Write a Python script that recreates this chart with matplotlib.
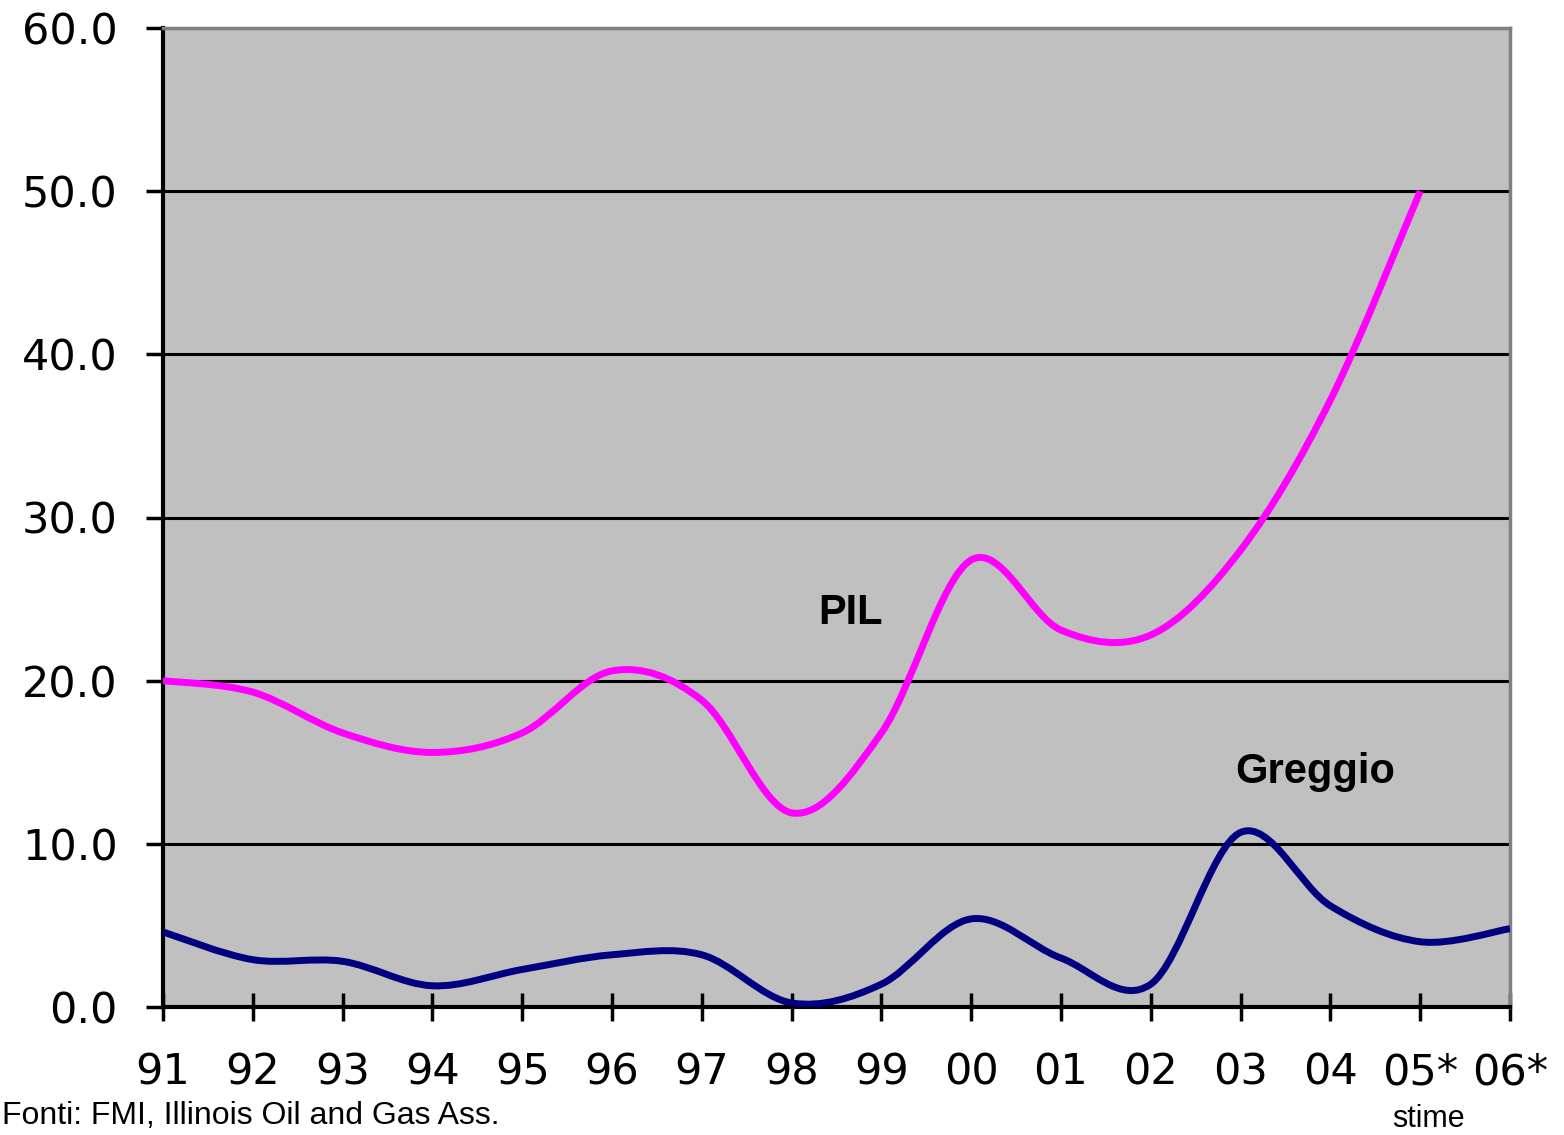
import numpy as np
import matplotlib
matplotlib.use("Agg")
import matplotlib.pyplot as plt
from matplotlib.path import Path
from matplotlib.patches import PathPatch

# ---- data ----
years = ["91", "92", "93", "94", "95", "96", "97", "98", "99", "00",
         "01", "02", "03", "04", "05*", "06*"]
pil = [20.0, 19.3, 16.8, 15.6, 16.8, 20.6, 18.8, 11.9, 16.8, 27.4,
       23.1, 22.8, 28.0, 37.2, 50.0]
greggio = [4.6, 2.9, 2.8, 1.3, 2.3, 3.2, 3.2, 0.25, 1.4, 5.4,
           3.0, 1.4, 10.7, 6.2, 4.0, 4.8]
y_ticks = [0, 10, 20, 30, 40, 50, 60]

series_labels = ["PIL", "Greggio"]
source_text = "Fonti: FMI, Illinois Oil and Gas Ass."
note_text = "stime"


def smooth_path(xs, ys):
    """Excel-like smoothed line: cubic Bezier through the points."""
    pts = np.column_stack([xs, ys]).astype(float)
    n = len(pts)
    verts = [pts[0]]
    codes = [Path.MOVETO]
    for i in range(n - 1):
        p0 = pts[max(i - 1, 0)]
        p1 = pts[i]
        p2 = pts[i + 1]
        p3 = pts[min(i + 2, n - 1)]
        c1 = p1 + (p2 - p0) / 6.0
        c2 = p2 - (p3 - p1) / 6.0
        verts += [c1, c2, p2]
        codes += [Path.CURVE4] * 3
    return Path(verts, codes)


W, H = 1564, 1135
fig = plt.figure(figsize=(W / 100, H / 100), dpi=100)
fig.patch.set_facecolor("white")
ax = fig.add_axes([163 / W, 1 - 1007 / H, (1510 - 163) / W, (1007 - 28) / H])
ax.set_facecolor("#C0C0C0")

x_idx = np.arange(len(years))
ax.set_xlim(0, len(years) - 1)
ax.set_ylim(0, 60)

# gridlines
ax.set_yticks(y_ticks)
ax.yaxis.grid(True, color="black", linewidth=2.2)
ax.xaxis.grid(False)
ax.set_axisbelow(True)

# series
for vals, color in [(pil, "#FF00FF"), (greggio, "#000080")]:
    path = smooth_path(x_idx[:len(vals)], vals)
    patch = PathPatch(path, facecolor="none", edgecolor=color,
                      linewidth=5, capstyle="butt", joinstyle="round",
                      zorder=3)
    ax.add_patch(patch)

# spines
for s in ["left", "bottom"]:
    ax.spines[s].set_color("black")
    ax.spines[s].set_linewidth(3)
for s in ["top", "right"]:
    ax.spines[s].set_color("#808080")
    ax.spines[s].set_linewidth(2.5)

# ticks
ax.set_xticks(x_idx)
ax.set_xticklabels(years)
ax.set_yticklabels([f"{v:.1f}" for v in y_ticks])
ax.tick_params(axis="x", direction="inout", length=19.5, width=2.5,
               pad=22, labelsize=31, colors="black")
ax.tick_params(axis="y", direction="out", length=12.5, width=2.5,
               pad=20, labelsize=31, colors="black")
for lab in ax.get_xticklabels() + ax.get_yticklabels():
    lab.set_family("DejaVu Sans")

# series labels
ax.text(7.66, 23.5, series_labels[0], ha="center", va="baseline",
        fontsize=30, fontweight="bold", family="Liberation Sans", zorder=4)
ax.text(12.83, 13.72, series_labels[1], ha="center", va="baseline",
        fontsize=30, fontweight="bold", family="Liberation Sans", zorder=4)

# footnotes
fig.text(2 / W, 1 - 1124 / H, source_text, ha="left", va="baseline",
         fontsize=23, family="Liberation Sans")
fig.text(1428 / W, 1 / H, note_text, ha="center", va="bottom",
         fontsize=22, family="Liberation Sans")

fig.savefig("out.png", dpi=100, facecolor="white")
